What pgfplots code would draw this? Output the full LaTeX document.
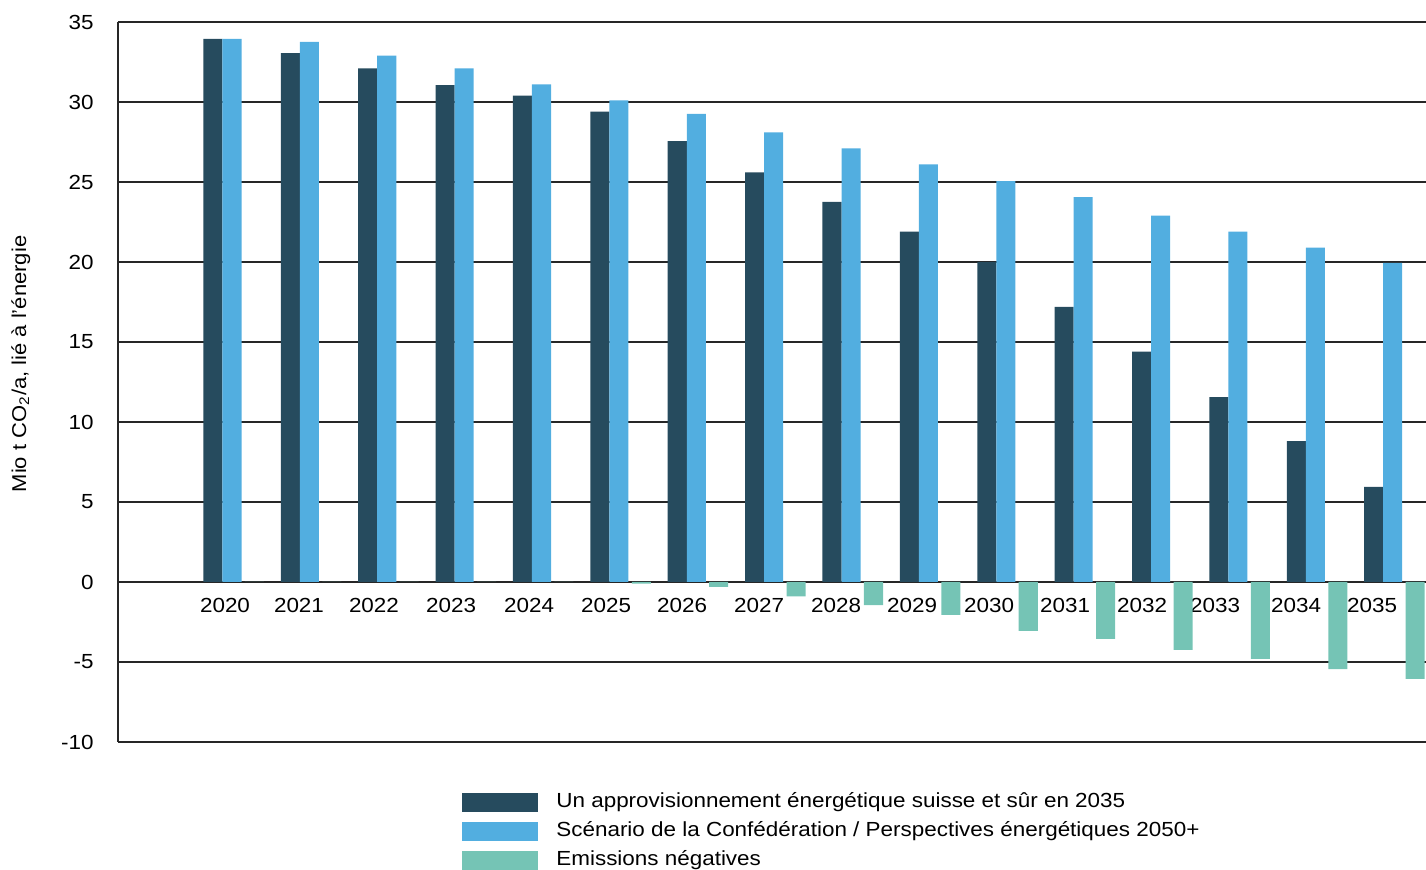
\documentclass[border=0pt]{standalone}
\usepackage{fontspec}
\setmainfont{Liberation Sans}[FakeStretch=1.1]
\usepackage{pgfplots}
\pgfplotsset{compat=1.18}
\definecolor{cdark}{HTML}{264B5E}
\definecolor{clight}{HTML}{52AEE0}
\definecolor{cgreen}{HTML}{75C4B5}
\begin{document}
\begin{tikzpicture}
\begin{axis}[
  name=ax,
  scale only axis,
  width=654pt, height=360pt,
  xmin=-1.473, xmax=15.43,
  ymin=-10, ymax=35,
  ytick={-10,-5,0,5,10,15,20,25,30,35},
  yticklabels={-10,-5,0,5,10,15,20,25,30,35},
  xtick={-0.090,0.866,1.835,2.831,3.839,4.834,5.816,6.811,7.806,8.789,9.784,10.766,11.762,12.705,13.752,14.734},
  xticklabels={2020,2021,2022,2023,2024,2025,2026,2027,2028,2029,2030,2031,2032,2033,2034,2035},
  axis x line*=middle,
  axis y line*=left,
  axis line style={line width=0.8pt, black!85},
  major tick length=0pt,
  ymajorgrids,
  grid style={line width=0.8pt, black!85},
  tick label style={font=\fontsize{10.2}{12}\selectfont},
  xticklabel style={anchor=north, inner sep=0pt, yshift=-8pt},
  yticklabel style={anchor=east, inner sep=0pt, xshift=-12pt},
  ylabel={Mio t CO\textsubscript{2}/a, lié à l'énergie},
  ylabel style={at={(axis description cs:-0.0742,0.525)}, anchor=center, font=\fontsize{10}{12}\selectfont},
  ybar,
  bar width=0.246,
  clip=false,
  legend cell align=left,
  legend style={draw=none, at={(0.263,-0.0708)}, anchor=north west, inner sep=0pt,
    font=\fontsize{10.2}{12}\selectfont,
    nodes={inner sep=0pt, text height=7.2pt, text depth=2.3pt},
    row sep=5pt,
    /tikz/every odd column/.append style={column sep=9pt}},
]
\addplot[fill=cdark, draw=none, bar shift=-0.246,
  legend image code/.code={\fill[cdark] (0pt,-4.75pt) rectangle (38pt,4.75pt);}]
  coordinates {(0,33.95) (1,33.06) (2,32.1) (3,31.06) (4,30.4) (5,29.4) (6,27.56) (7,25.6) (8,23.75) (9,21.9) (10,20.0) (11,17.2) (12,14.4) (13,11.56) (14,8.8) (15,5.94)};
\addlegendentry{Un approvisionnement énergétique suisse et sûr en 2035}
\addplot[fill=clight, draw=none, bar shift=0,
  legend image code/.code={\fill[clight] (0pt,-4.75pt) rectangle (38pt,4.75pt);}]
  coordinates {(0,33.95) (1,33.75) (2,32.9) (3,32.1) (4,31.1) (5,30.1) (6,29.25) (7,28.1) (8,27.1) (9,26.1) (10,25.06) (11,24.06) (12,22.9) (13,21.9) (14,20.9) (15,19.94)};
\addlegendentry{Scénario de la Confédération / Perspectives énergétiques 2050+}
\addplot[fill=cgreen, draw=none, bar shift=0.29,
  legend image code/.code={\fill[cgreen] (0pt,-4.75pt) rectangle (38pt,4.75pt);}]
  coordinates {(0,0) (1,0) (2,0) (3,0) (4,0) (5,-0.1) (6,-0.3) (7,-0.9) (8,-1.44) (9,-2.06) (10,-3.06) (11,-3.56) (12,-4.25) (13,-4.8) (14,-5.44) (15,-6.06)};
\addlegendentry{Emissions négatives}
\end{axis}
\pgfresetboundingbox
\useasboundingbox ([shift={(-59pt,-64pt)}]ax.south west) rectangle ([shift={(654pt,371pt)}]ax.south west);
\end{tikzpicture}
\end{document}
